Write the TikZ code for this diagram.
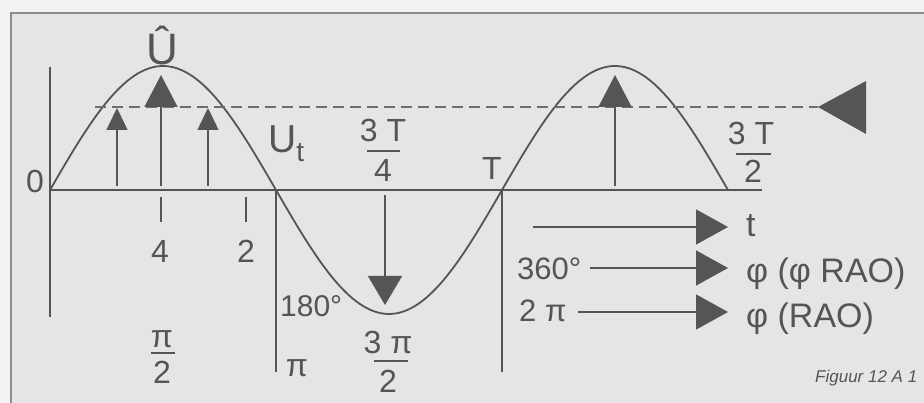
\documentclass[tikz,border=0pt]{standalone}
\usepackage{fontspec}
\setmainfont{Liberation Sans}
\usetikzlibrary{arrows.meta}
\definecolor{ink}{HTML}{555555}
\definecolor{bgin}{HTML}{E5E5E5}
\definecolor{bgout}{HTML}{F3F3F3}
\definecolor{framec}{HTML}{8C8C8C}
\definecolor{dashc}{HTML}{6E6E6E}
\begin{document}
\begin{tikzpicture}[x=1pt,y=-1pt,
  lbl/.style={inner sep=0pt, text=ink, font=\fontsize{32}{36}\selectfont},
  biglbl/.style={inner sep=0pt, text=ink, font=\fontsize{44}{48}\selectfont},
  rlbl/.style={inner sep=0pt, text=ink, font=\fontsize{34}{38}\selectfont},
  axisline/.style={draw=ink, line width=2.2pt},
  thinline/.style={draw=ink, line width=1.6pt},
  curve/.style={draw=ink, line width=1.8pt},
  fracbar/.style={draw=ink, line width=1.3pt},
  smallup/.style={draw=ink, line width=1.5pt, -{Triangle[length=22pt,width=21pt]}},
  bigup/.style={draw=ink, line width=1.5pt, -{Triangle[length=32pt,width=33pt]}},
  downarr/.style={draw=ink, line width=1.5pt, -{Triangle[length=29pt,width=34pt]}},
  rightarr/.style={draw=ink, line width=1.5pt, -{Triangle[length=32pt,width=35pt]}},
  dashline/.style={draw=dashc, line width=2.6pt, dash pattern=on 11pt off 6pt}
]
\useasboundingbox (0,0) rectangle (924,403);
\fill[bgout] (0,0) rectangle (924,403);
\fill[bgin] (11,13) rectangle (924,403);
\draw[framec, line width=2pt] (11,403) -- (11,13) -- (924,13);

% coordinates
\coordinate (o) at (50,190);
\coordinate (axend) at (762,190);
\coordinate (vtop) at (50,67);
\coordinate (vbot) at (50,317);

% axes
\draw[axisline] (o) -- (axend);
\draw[axisline] (vtop) -- (vbot);

% sine
\draw[curve] plot[domain=0:678, samples=200, smooth] ({50+\x},{190-124*sin(\x/452*360)});

% dashed level line and big triangle
\coordinate (dA) at (95,107);
\coordinate (dB) at (818,107);
\draw[dashline] (dA) -- (dB);
\fill[ink] (dB) -- (866,81) -- (866,134) -- cycle;

% up arrows
\coordinate (a1s) at (117,186); \coordinate (a1e) at (117,108);
\coordinate (a2s) at (161,186); \coordinate (a2e) at (161,75);
\coordinate (a3s) at (208,186); \coordinate (a3e) at (208,108);
\coordinate (a4s) at (615,186); \coordinate (a4e) at (615,75);
\draw[smallup] (a1s) -- (a1e);
\draw[bigup] (a2s) -- (a2e);
\draw[smallup] (a3s) -- (a3e);
\draw[bigup] (a4s) -- (a4e);

% down arrow
\coordinate (dns) at (385,195); \coordinate (dne) at (385,305);
\draw[downarr] (dns) -- (dne);

% ticks
\coordinate (t1a) at (161,197); \coordinate (t1b) at (161,222);
\coordinate (t2a) at (246,197); \coordinate (t2b) at (246,222);
\draw[thinline] (t1a) -- (t1b);
\draw[thinline] (t2a) -- (t2b);

% vertical lines at pi and 2pi
\coordinate (p1a) at (276,190); \coordinate (p1b) at (276,372);
\coordinate (p2a) at (502,190); \coordinate (p2b) at (502,372);
\draw[thinline] (p1a) -- (p1b);
\draw[axisline] (p2a) -- (p2b);

% right arrows
\coordinate (r1s) at (533,227); \coordinate (r1e) at (728,227);
\coordinate (r2s) at (590,268); \coordinate (r2e) at (728,268);
\coordinate (r3s) at (578,312); \coordinate (r3e) at (728,312);
\draw[rightarr] (r1s) -- (r1e);
\draw[rightarr] (r2s) -- (r2e);
\draw[rightarr] (r3s) -- (r3e);

% labels
\node[biglbl, anchor=base] (uhat) at (162,65) {Û};
\node[lbl, anchor=base] (zero) at (35,193) {0};
\node[inner sep=0pt, text=ink, anchor=base west] (ut) at (268,153)
  {\fontsize{39}{42}\selectfont U\raisebox{-9pt}{\fontsize{28}{30}\selectfont t}};

\node[lbl, anchor=base] (q3T) at (383,142) {3 T};
\draw[fracbar] (367,151) -- (400,151);
\node[lbl, anchor=base] (q4) at (383,182) {4};

\node[lbl, anchor=base] (T) at (492,180) {T};

\node[lbl, anchor=base] (h3T) at (751,145) {3 T};
\draw[fracbar] (736,154) -- (771,154);
\node[lbl, anchor=base] (h2) at (753,183) {2};

\node[lbl, anchor=base] (n4) at (160,263) {4};
\node[lbl, anchor=base] (n2) at (246,263) {2};

\node[lbl, anchor=base] (pih) at (162,348) {π};
\draw[fracbar] (151,353) -- (175,353);
\node[lbl, anchor=base] (pih2) at (162,383) {2};

\node[inner sep=0pt, text=ink, font=\fontsize{30}{34}\selectfont, anchor=base west] (d180) at (280,317) {180°};
\node[lbl, anchor=base] (pi1) at (297,377) {π};

\node[lbl, anchor=base] (p3) at (388,353) {3 π};
\draw[fracbar] (374,361) -- (408,361);
\node[lbl, anchor=base] (p32) at (388,392) {2};

\node[inner sep=0pt, text=ink, font=\fontsize{31}{34}\selectfont, anchor=base west] (d360) at (517,280) {360°};
\node[inner sep=0pt, text=ink, font=\fontsize{31}{34}\selectfont, anchor=base west] (twopi) at (519,322) {2 π};

\node[rlbl, anchor=base west] (tl) at (746,237) {t};
\node[rlbl, anchor=base west] (phi1) at (746,283) {φ (φ RAO)};
\node[rlbl, anchor=base west] (phi2) at (746,328) {φ (RAO)};

\node[inner sep=0pt, text=ink, font=\fontsize{17}{20}\selectfont\itshape, anchor=base west] (fig) at (815,382) {Figuur 12 A 1};
\end{tikzpicture}
\end{document}
